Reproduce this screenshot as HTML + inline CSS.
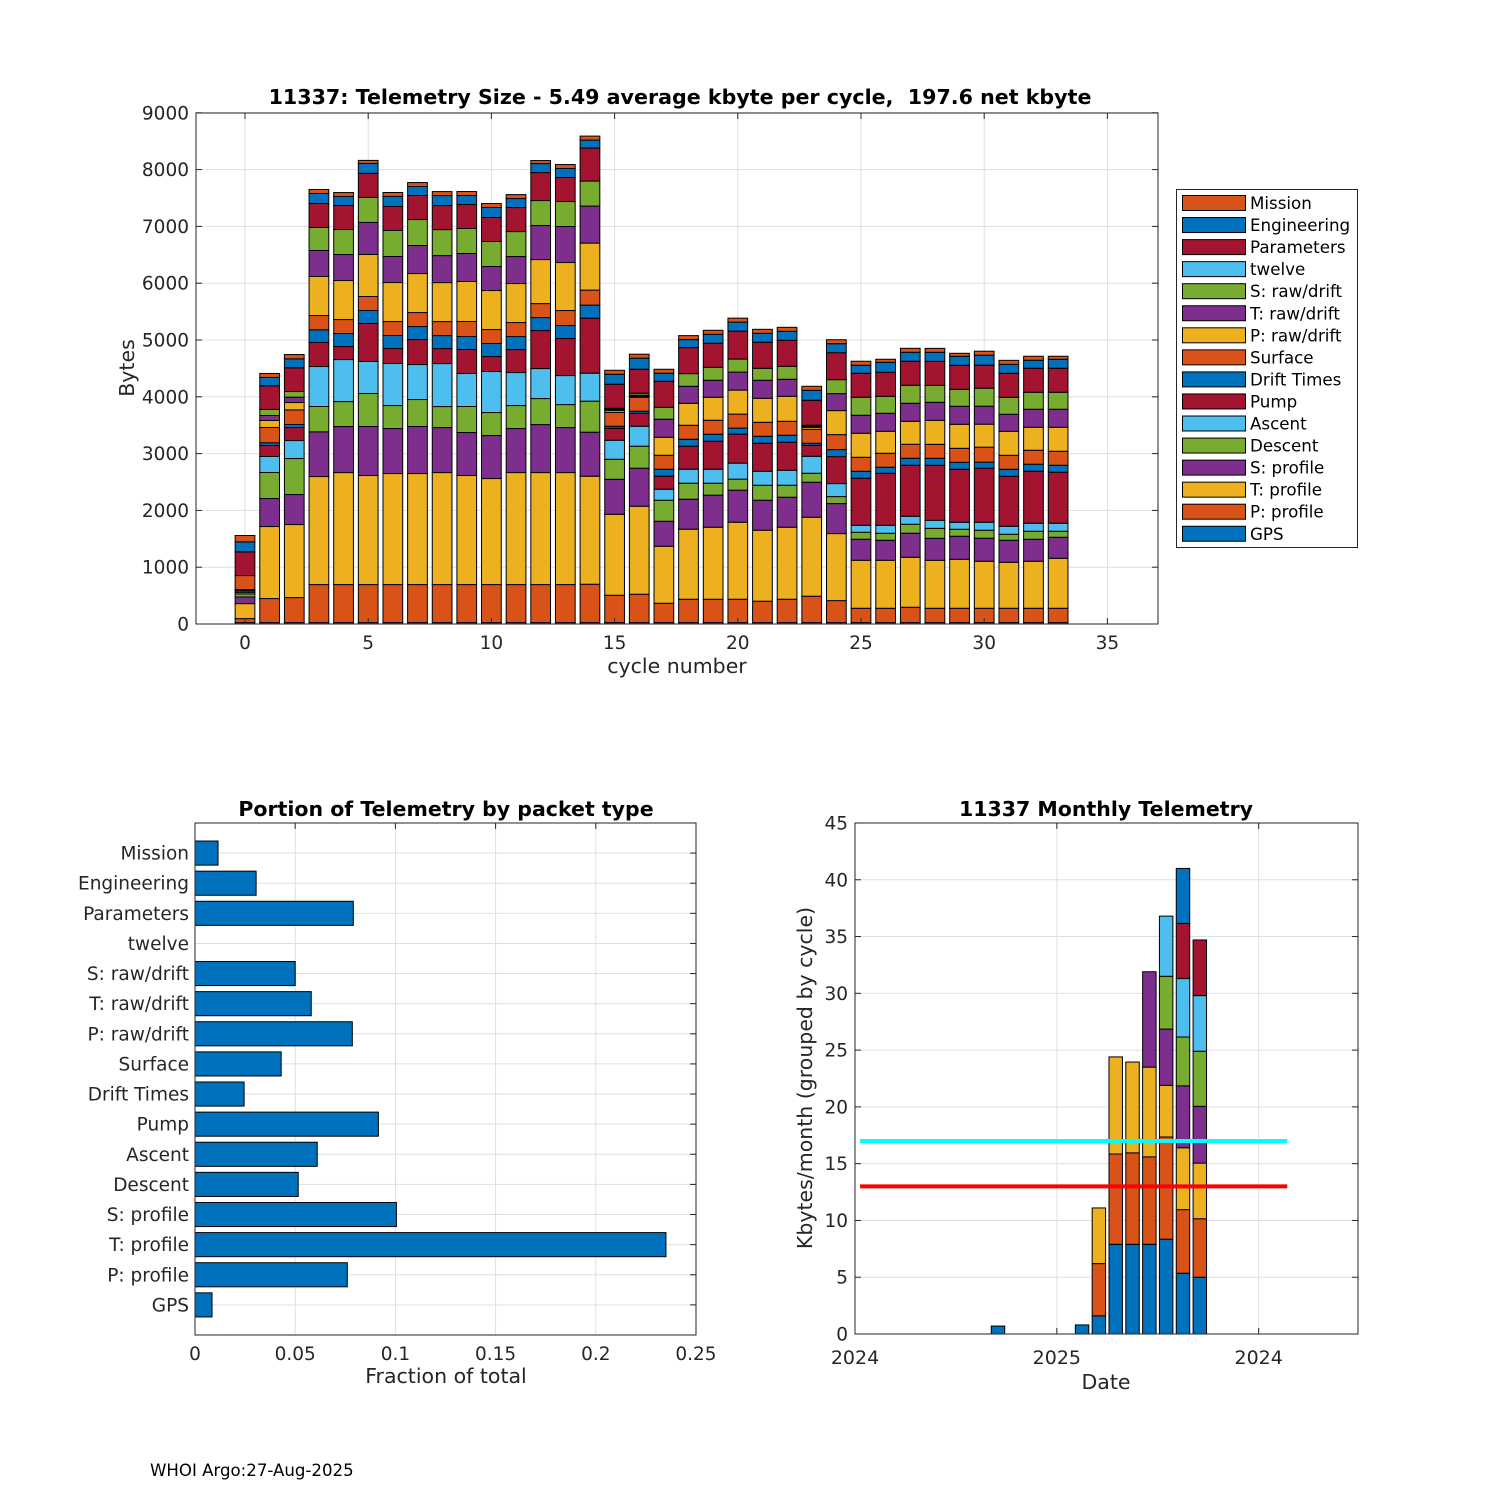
<!DOCTYPE html>
<html><head><meta charset="utf-8"><style>
html,body{margin:0;padding:0;background:#fff;}
svg{display:block;font-family:"DejaVu Sans","Liberation Sans",sans-serif;}
</style></head><body>
<svg id="fig" width="1500" height="1500" viewBox="0 0 1500 1500">
<rect x="0" y="0" width="1500" height="1500" fill="#fff"/>
<text x="680" y="104" text-anchor="middle" font-size="20.6" font-weight="bold" fill="#000">11337: Telemetry Size - 5.49 average kbyte per cycle,&#160; 197.6 net kbyte</text>
<text x="677" y="673" text-anchor="middle" font-size="20.5" fill="#262626">cycle number</text>
<text transform="translate(134,368) rotate(-90)" text-anchor="middle" font-size="20.5" fill="#262626">Bytes</text>
<text x="446" y="816" text-anchor="middle" font-size="20.5" font-weight="bold" fill="#000">Portion of Telemetry by packet type</text>
<text x="446" y="1383" text-anchor="middle" font-size="20.5" fill="#262626">Fraction of total</text>
<text x="1106" y="816" text-anchor="middle" font-size="20.5" font-weight="bold" fill="#000">11337 Monthly Telemetry</text>
<text x="1106" y="1389" text-anchor="middle" font-size="20.5" fill="#262626">Date</text>
<text transform="translate(812,1078) rotate(-90)" text-anchor="middle" font-size="20.5" fill="#262626">Kbytes/month (grouped by cycle)</text>
<text x="150" y="1476" font-size="16.6" fill="#000">WHOI Argo:27-Aug-2025</text>
<g id="g-top"></g>
<g id="g-legend"></g>
<g id="g-frac"></g>
<g id="g-month"></g>
</svg>
<script>
// ---------- top chart data ----------
const packetNames = ["GPS","P: profile","T: profile","S: profile","Descent","Ascent","Pump","Drift Times","Surface","P: raw/drift","T: raw/drift","S: raw/drift","twelve","Parameters","Engineering","Mission"];
const packetColors = ["#0072BD","#D95319","#EDB120","#7E2F8E","#77AC30","#4DBEEE","#A2142F","#0072BD","#D95319","#EDB120","#7E2F8E","#77AC30","#4DBEEE","#A2142F","#0072BD","#D95319"];
const cycleNumbers = [0,1,2,3,4,5,6,7,8,9,10,11,12,13,14,15,16,17,18,19,20,21,22,23,24,25,26,27,28,29,30,31,32,33];
const gpsBytes = [25,25,25,25,25,25,25,25,25,25,25,25,25,25,25,25,25,25,25,25,25,25,25,25,25,25,25,25,25,25,25,25,25,25];
const pProfileBytes = [70,423,440,669,669,669,669,669,669,669,669,669,669,669,675,481,499,340,411,411,411,376,411,464,387,252,252,270,252,252,252,252,252,252];
const tProfileBytes = [264,1268,1286,1902,1972,1920,1955,1955,1972,1920,1867,1972,1972,1972,1902,1426,1550,1004,1233,1268,1356,1250,1268,1391,1180,845,845,880,844,863,828,810,828,880];
const sProfileBytes = [117,493,528,787,810,863,792,828,792,757,757,775,845,792,775,616,669,440,528,564,564,528,528,616,528,370,352,423,387,405,405,387,387,370];
const descentBytes = [53,458,634,446,440,581,405,475,370,458,405,405,458,405,546,352,387,370,282,211,194,264,211,158,123,123,123,158,176,123,141,106,141,106];
const ascentBytes = [30,282,317,704,740,564,740,616,757,581,722,581,528,511,493,335,352,194,246,246,282,246,264,299,229,123,141,141,141,123,141,141,141,141];
const pumpBytes = [30,194,229,423,229,669,264,440,264,423,264,405,669,652,969,211,229,229,405,493,511,493,493,194,475,828,916,898,969,933,951,880,916,898];
const driftTimesBytes = [18,47,53,223,229,229,229,229,229,229,229,229,229,229,229,35,35,123,123,123,106,123,123,35,123,123,106,123,123,123,106,123,123,123];
const surfaceBytes = [246,270,258,252,246,246,246,246,246,264,246,246,246,264,264,246,246,246,246,246,246,246,246,246,264,246,246,246,246,246,264,246,246,246];
const pRawBytes = [0,123,129,687,687,740,687,687,687,704,687,687,775,845,828,35,18,317,387,405,423,423,440,35,423,423,387,405,423,423,405,423,405,423];
const tRawBytes = [0,88,94,458,458,564,458,493,475,493,423,475,599,634,652,18,18,317,299,299,317,317,299,18,299,317,317,317,317,317,317,299,317,317];
const sRawBytes = [0,106,100,405,440,440,458,458,458,440,440,440,440,440,440,18,35,211,223,229,229,211,229,18,246,317,299,317,299,299,317,299,299,299];
const twelveBytes = [0,0,0,0,0,0,0,0,0,0,0,0,0,0,0,0,0,0,0,0,0,0,0,0,0,0,0,0,0,0,0,0,0,0];
const parametersBytes = [417,417,417,423,423,423,423,423,423,423,423,423,493,423,581,423,423,458,458,423,493,458,458,440,475,423,423,423,423,423,405,423,423,423];
const engineeringBytes = [176,147,158,176,158,176,176,158,176,158,176,158,158,158,141,176,194,141,141,158,158,158,158,176,158,141,176,158,158,158,176,158,141,158];
const missionBytes = [112,70,76,70,70,53,70,70,70,70,70,70,53,70,70,70,70,70,70,70,70,70,70,70,70,70,53,70,70,53,70,70,70,53];
const topYTicks = [0,1000,2000,3000,4000,5000,6000,7000,8000,9000];
const topXTicks = [0,5,10,15,20,25,30,35];

// ---------- fraction chart data ----------
const fractionCategories = ["GPS","P: profile","T: profile","S: profile","Descent","Ascent","Pump","Drift Times","Surface","P: raw/drift","T: raw/drift","S: raw/drift","twelve","Parameters","Engineering","Mission"];
const fractionValues = [0.0085,0.076,0.235,0.1005,0.0515,0.061,0.0915,0.0245,0.043,0.0785,0.058,0.050,0,0.079,0.0305,0.0115];
const fractionXTicks = [0,0.05,0.1,0.15,0.2,0.25];
const fractionXTickLabels = ["0","0.05","0.1","0.15","0.2","0.25"];

// ---------- monthly chart data ----------
const monthPositions = [8.5,13.5,14.5,15.5,16.5,17.5,18.5,19.5,20.5];
const monthStackA = [0.7];
const monthStackB = [0.8];
const monthStackC = [1.6,4.6,4.9];
const monthStackD = [7.9,7.95,8.55];
const monthStackE = [7.9,8.05,8.0];
const monthStackF = [7.9,7.7,7.9,8.4];
const monthStackG = [8.35,9.0,4.55,4.95,4.65,5.3];
const monthStackH = [5.35,5.6,5.45,5.45,4.3,5.15,4.85,4.85];
const monthStackI = [5.0,5.15,4.9,5.0,4.85,4.9,4.9];
const monthYTicks = [0,5,10,15,20,25,30,35,40,45];
const monthXTicks = [0,12,24];
const monthXTickLabels = ["2024","2025","2024"];
const refLineCyan = 17;
const refLineRed = 13;
const refLineStart = 0.3;
const refLineEnd = 25.7;

const NS = "http://www.w3.org/2000/svg";
function mk(tag, attrs, parent){
  const e = document.createElementNS(NS, tag);
  for (const k in attrs) e.setAttribute(k, attrs[k]);
  parent.appendChild(e);
  return e;
}
const GRID = "#dfdfdf", AX = "#262626", TFS = 18.5;

// ===== top chart =====
(function(){
  const g = document.getElementById("g-top");
  const L=196,R=1158,T=113,B=624;
  const xs = c => 245 + c*24.64;
  const ys = v => 624 - v*0.0568;
  for (const t of topYTicks){ const l = mk("line",{x1:L,x2:R,y1:ys(t),y2:ys(t),stroke:GRID,"stroke-width":1},g);
      }
  for (const t of topXTicks){ const l = mk("line",{x1:xs(t),x2:xs(t),y1:T,y2:B,stroke:GRID,"stroke-width":1},g);
      }
  const series = [gpsBytes,pProfileBytes,tProfileBytes,sProfileBytes,descentBytes,ascentBytes,pumpBytes,driftTimesBytes,surfaceBytes,pRawBytes,tRawBytes,sRawBytes,twelveBytes,parametersBytes,engineeringBytes,missionBytes];
  const w = 0.8*24.64;
  cycleNumbers.forEach((c,i)=>{
    let base = 0;
    series.forEach((s,k)=>{
      const v = s[i];
      if (v<=0) return;
      const r = mk("rect",{x:xs(c)-w/2,y:ys(base+v),width:w,height:ys(base)-ys(base+v),fill:packetColors[k],stroke:"#000","stroke-width":1},g);
      
      
      base += v;
    });
  });
  const box = mk("rect",{x:L,y:T,width:R-L,height:B-T,fill:"none",stroke:AX,"stroke-width":1},g);
   
  for (const t of topYTicks){
    mk("line",{x1:L,x2:L+6,y1:ys(t),y2:ys(t),stroke:AX},g); mk("line",{x1:R-6,x2:R,y1:ys(t),y2:ys(t),stroke:AX},g);
    const tx = mk("text",{x:L-7,y:ys(t)+6.5,"text-anchor":"end","font-size":TFS,fill:AX},g); tx.textContent = t;
     
  }
  for (const t of topXTicks){
    mk("line",{x1:xs(t),x2:xs(t),y1:B,y2:B-6,stroke:AX},g); mk("line",{x1:xs(t),x2:xs(t),y1:T,y2:T+6,stroke:AX},g);
    const tx = mk("text",{x:xs(t),y:B+25,"text-anchor":"middle","font-size":TFS,fill:AX},g); tx.textContent = t;
     
  }
})();

// ===== legend =====
(function(){
  const g = document.getElementById("g-legend");
  const r0 = mk("rect",{x:1176.5,y:189.5,width:181,height:358,fill:"#fff",stroke:AX,"stroke-width":1},g);
   
  for (let j=0;j<16;j++){
    const k = 15-j;
    const y = 203 + j*22.05;
    const sw = mk("rect",{x:1182.5,y:y-7.5,width:63,height:15,fill:packetColors[k],stroke:"#000","stroke-width":1},g);
     
    const tx = mk("text",{x:1250,y:y+6,"font-size":16.7,fill:"#000"},g); tx.textContent = packetNames[k];
     
  }
})();

// ===== fraction chart =====
(function(){
  const g = document.getElementById("g-frac");
  const L=195,R=696,T=823,B=1335;
  const xs = f => L + f*2004;
  const ys = i => B - i*30.12;
  for (const t of fractionXTicks){ const l=mk("line",{x1:xs(t),x2:xs(t),y1:T,y2:B,stroke:GRID},g);
      }
  fractionCategories.forEach((c,i)=>{ const l=mk("line",{x1:L,x2:R,y1:ys(i+1),y2:ys(i+1),stroke:GRID},g);
      });
  const h = 0.8*30.12;
  fractionCategories.forEach((c,i)=>{
    const v = fractionValues[i];
    if (v>0){
      const r = mk("rect",{x:xs(0),y:ys(i+1)-h/2,width:xs(v)-xs(0),height:h,fill:"#0072BD",stroke:"#000","stroke-width":1},g);
      
      
    }
    const tx = mk("text",{x:L-6,y:ys(i+1)+6.5,"text-anchor":"end","font-size":TFS,fill:AX},g); tx.textContent = c;
     
    mk("line",{x1:R,x2:R-6,y1:ys(i+1),y2:ys(i+1),stroke:AX},g);
  });
  const box = mk("rect",{x:L,y:T,width:R-L,height:B-T,fill:"none",stroke:AX},g);
   
  fractionXTicks.forEach((t,i)=>{
    mk("line",{x1:xs(t),x2:xs(t),y1:T,y2:T+6,stroke:AX},g);
    const tx = mk("text",{x:xs(t),y:B+25,"text-anchor":"middle","font-size":TFS,fill:AX},g); tx.textContent = fractionXTickLabels[i];
     
  });
})();

// ===== monthly chart =====
(function(){
  const g = document.getElementById("g-month");
  const L=855,R=1358,T=823,B=1334;
  const xs = m => L + m*16.82;
  const ys = v => B - v*11.356;
  for (const t of monthYTicks){ const l=mk("line",{x1:L,x2:R,y1:ys(t),y2:ys(t),stroke:GRID},g);
      }
  for (const t of monthXTicks){ const l=mk("line",{x1:xs(t),x2:xs(t),y1:T,y2:B,stroke:GRID},g);
      }
  const stacks = [monthStackA,monthStackB,monthStackC,monthStackD,monthStackE,monthStackF,monthStackG,monthStackH,monthStackI];
  const cols = ["#0072BD","#D95319","#EDB120","#7E2F8E","#77AC30","#4DBEEE","#A2142F","#0072BD"];
  const w = 0.8*16.82;
  stacks.forEach((s,i)=>{
    let base=0;
    s.forEach((v,k)=>{
      const r = mk("rect",{x:xs(monthPositions[i])-w/2,y:ys(base+v),width:w,height:ys(base)-ys(base+v),fill:cols[k],stroke:"#000","stroke-width":1},g);
      
      
      base+=v;
    });
  });
  const c1 = mk("line",{x1:xs(refLineStart),x2:xs(refLineEnd),y1:ys(refLineCyan),y2:ys(refLineCyan),stroke:"#00FFFF","stroke-width":4},g);
   
  const c2 = mk("line",{x1:xs(refLineStart),x2:xs(refLineEnd),y1:ys(refLineRed),y2:ys(refLineRed),stroke:"#FF0000","stroke-width":4},g);
   
  const box = mk("rect",{x:L,y:T,width:R-L,height:B-T,fill:"none",stroke:AX},g);
   
  for (const t of monthYTicks){
    mk("line",{x1:L,x2:L+6,y1:ys(t),y2:ys(t),stroke:AX},g); mk("line",{x1:R-6,x2:R,y1:ys(t),y2:ys(t),stroke:AX},g);
    const tx = mk("text",{x:L-7,y:ys(t)+6.5,"text-anchor":"end","font-size":TFS,fill:AX},g); tx.textContent = t;
     
  }
  monthXTicks.forEach((t,i)=>{
    mk("line",{x1:xs(t),x2:xs(t),y1:B,y2:B-6,stroke:AX},g); mk("line",{x1:xs(t),x2:xs(t),y1:T,y2:T+6,stroke:AX},g);
    const tx = mk("text",{x:xs(t),y:B+30,"text-anchor":"middle","font-size":19,fill:AX},g); tx.textContent = monthXTickLabels[i];
     
  });
})();
</script>
</body></html>
